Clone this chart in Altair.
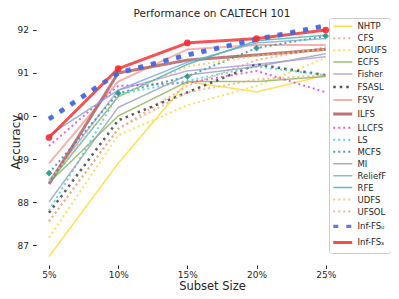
import altair as alt
import pandas as pd

sizes = [5, 10, 15, 20, 25]
methods = ["NHTP", "CFS", "DGUFS", "ECFS", "Fisher", "FSASL", "FSV", "ILFS", "LLCFS",
           "LS", "MCFS", "MI", "ReliefF", "RFE", "UDFS", "UFSOL", "Inf-FSᵤ", "Inf-FSₛ"]

nhtp = [86.73, 88.90, 90.80, 90.56, 90.95]
cfs = [87.55, 89.70, 90.70, 91.30, 91.60]
dgufs = [87.17, 89.55, 90.25, 90.70, 91.35]
ecfs = [88.45, 90.00, 90.80, 90.80, 90.92]
fisher = [88.50, 90.60, 91.05, 91.20, 91.38]
fsasl = [87.75, 89.90, 90.55, 91.20, 90.95]
fsv = [88.90, 90.80, 91.55, 91.65, 91.65]
ilfs = [88.42, 91.00, 91.30, 91.42, 91.55]
llcfs = [89.30, 90.70, 90.77, 91.05, 90.55]
ls = [87.80, 90.50, 90.82, 91.15, 90.95]
mcfs = [88.67, 90.53, 90.92, 91.58, 91.86]
mi = [88.00, 90.20, 90.95, 91.15, 91.45]
relieff = [89.55, 90.60, 91.25, 91.70, 91.80]
rfe = [88.45, 90.45, 91.20, 91.75, 91.88]
udfs = [88.50, 90.45, 91.15, 91.40, 91.55]
ufsol = [87.55, 89.70, 90.55, 90.85, 90.95]
inffs_u = [89.93, 91.00, 91.42, 91.78, 92.10]
inffs_s = [89.50, 91.10, 91.70, 91.80, 92.00]

series = [nhtp, cfs, dgufs, ecfs, fisher, fsasl, fsv, ilfs, llcfs, ls, mcfs, mi,
          relieff, rfe, udfs, ufsol, inffs_u, inffs_s]

colors = ["#FFD92F", "#F2A47E", "#F5DC45", "#8DB35C", "#AE98E8", "#3A3A3A", "#F4A0A0",
          "#B35A5A", "#DD45DD", "#3CD3D3", "#2A9590", "#98A2B3", "#7FA8D8", "#45B3AE",
          "#F5C463", "#EBB084", "#4169E1", "#F03030"]
dashes = [[1, 0], [2, 3], [2, 3], [1, 0], [1, 0], [2.5, 4], [1, 0], [1, 0], [2, 3],
          [2, 3], [2, 3], [1, 0], [1, 0], [1, 0], [2, 3], [2, 3], [5, 8], [1, 0]]
# legend-friendly widths; Inf-FS_U is re-drawn thicker on top
widths = [1.5, 2, 2, 1.5, 1.5, 2.5, 2, 3, 2, 2, 2, 1.5, 1.5, 1.5, 2, 2, 3.2, 3]

rows = []
for m, vals in zip(methods, series):
    for s, v in zip(sizes, vals):
        rows.append({"size": s, "acc": v, "method": m})
df = pd.DataFrame(rows)

FONT = "DejaVu Sans"
TXT = "#262626"

x_enc = alt.X("size:Q",
              scale=alt.Scale(domain=[4.061, 29.5], nice=False, zero=False),
              axis=alt.Axis(values=[5, 10, 15, 20, 25], labelExpr="datum.value + '%'",
                            title="Subset Size", titleFontSize=11.5, titleFont=FONT,
                            titleFontWeight="normal", titleColor=TXT, titlePadding=1,
                            labelFontSize=9, labelFont=FONT, labelColor=TXT,
                            labelPadding=1.5, tickSize=3.5, tickColor=TXT,
                            domain=False, grid=False))
y_enc = alt.Y("acc:Q",
              scale=alt.Scale(domain=[86.535, 92.279], nice=False, zero=False),
              axis=alt.Axis(values=[87, 88, 89, 90, 91, 92], format="d",
                            title="Accuracy", titleFontSize=12, titleFont=FONT,
                            titleFontWeight="normal", titleColor=TXT, titlePadding=-5,
                            labelFontSize=9, labelFont=FONT, labelColor=TXT,
                            labelPadding=4, tickSize=3.5, tickColor=TXT,
                            domain=False, grid=False))

legend = alt.Legend(title=None, orient="none", legendX=293, legendY=0,
                    fillColor="rgba(255,255,255,0.85)", strokeColor="#cccccc",
                    cornerRadius=3, padding=4, symbolType="M-2.67,0L10,0",
                    symbolSize=9, labelOffset=16, labelFontSize=8.5, labelFont=FONT,
                    labelColor=TXT, rowPadding=2.95, symbolOpacity=0.85)

lines = alt.Chart(df).mark_line(opacity=0.82, strokeJoin="round").encode(
    x=x_enc,
    y=y_enc,
    color=alt.Color("method:N", scale=alt.Scale(domain=methods, range=colors),
                    sort=methods, legend=legend),
    strokeDash=alt.StrokeDash("method:N", scale=alt.Scale(domain=methods, range=dashes),
                              sort=methods, legend=legend),
    strokeWidth=alt.StrokeWidth("method:N",
                                scale=alt.Scale(type="ordinal", domain=methods, range=widths),
                                sort=methods, legend=legend),
    order=alt.Order("size:Q"),
)

infu_thick = alt.Chart(df).transform_filter(alt.datum.method == "Inf-FSᵤ").mark_line(
    color="#4169E1", strokeDash=[5, 8], strokeWidth=5, opacity=0.82
).encode(x="size:Q", y="acc:Q", order="size:Q")

mcfs_pts = alt.Chart(df).transform_filter(alt.datum.method == "MCFS").mark_point(
    shape="diamond", filled=True, size=45, color="#2A9590", opacity=0.9
).encode(x="size:Q", y="acc:Q")

infs_pts = alt.Chart(df).transform_filter(alt.datum.method == "Inf-FSₛ").mark_point(
    shape="circle", filled=True, size=45, color="#F03030", opacity=0.9
).encode(x="size:Q", y="acc:Q")

chart = alt.layer(lines, infu_thick, mcfs_pts, infs_pts).properties(
    width=352, height=247,
    title=alt.TitleParams("Performance on CALTECH 101", fontSize=10.5, font=FONT,
                          fontWeight="normal", color=TXT, anchor="middle",
                          baseline="alphabetic", offset=1.5, frame="group", dy=13),
    autosize=alt.AutoSizeParams(type="none"),
    padding={"left": 28, "top": 10, "right": 3, "bottom": 26},
).configure_view(stroke=None)

chart.save("out.html", embed_options={"renderer": "svg", "actions": False})
